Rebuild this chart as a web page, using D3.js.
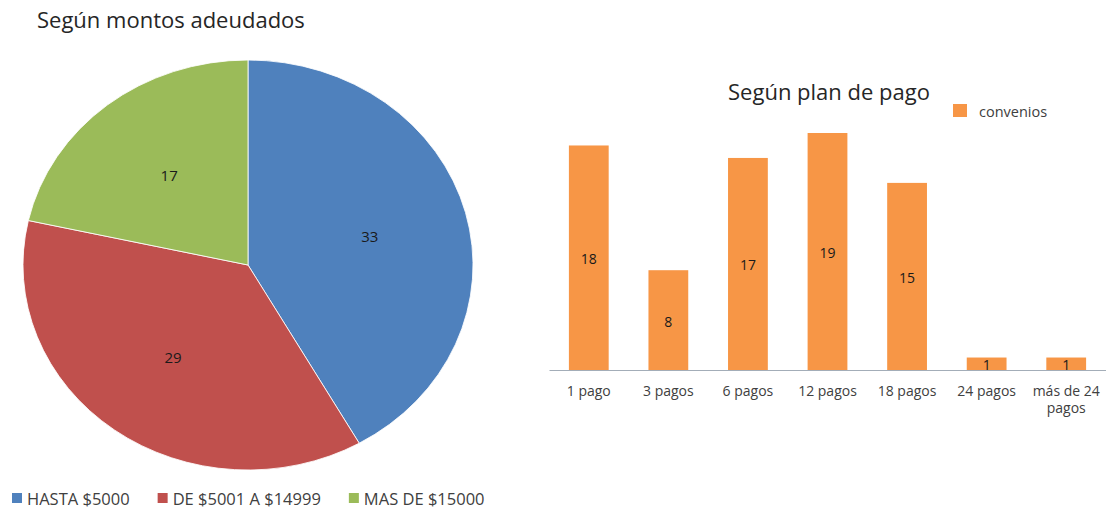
<!DOCTYPE html>
<html>
<head>
<meta charset="utf-8">
<script src="https://cdn.jsdelivr.net/npm/d3@7"></script>
<style>
  body { margin: 0; background: #fff; }
  text { font-family: "Open Sans", "Lato", sans-serif; }
</style>
</head>
<body>
<div id="chart"></div>
<script>
// pie data
const pieCategories = ["HASTA $5000", "DE $5001 A $14999", "MAS DE $15000"];
const pieValues = [33, 29, 17];
const pieColors = ["#4F81BD", "#C0504D", "#9BBB59"];

// bar data
const barCategories = ["1 pago", "3 pagos", "6 pagos", "12 pagos", "18 pagos", "24 pagos", "más de 24 pagos"];
const barValues = [18, 8, 17, 19, 15, 1, 1];
const barSeries = "convenios";

const W = 1106, H = 511;

const svg = d3.select('#chart')
  .append('svg')
  .attr('width', W)
  .attr('height', H);

svg.append('rect').attr('width', W).attr('height', H).attr('fill', '#fff');

/////////////////////////////////////////////////
// pie (slightly stretched horizontally like the original)
const cx = 248, cy = 265, rx = 225, ry = 205;
const sx = rx / ry;

const pie = d3.pie().sort(null).value(d => d);
const arcs = pie(pieValues);
const arc = d3.arc().innerRadius(0).outerRadius(ry);
const labelArc = d3.arc().innerRadius(ry * 0.56).outerRadius(ry * 0.56);

svg.append('text')
  .attr('x', 37)
  .attr('y', 28)
  .attr('font-size', 22)
  .attr('fill', '#262626')
  .text('Según montos adeudados');

const pieG = svg.append('g')
  .attr('transform', `translate(${cx},${cy}) scale(${sx},1)`);

pieG.selectAll('path')
  .data(arcs)
  .enter()
    .append('path')
    .attr('d', arc)
    .attr('fill', (d, i) => pieColors[i])
    .attr('stroke', '#fff')
    .attr('stroke-width', 0.8);

svg.selectAll('text.pie-label')
  .data(arcs)
  .enter()
    .append('text')
    .attr('class', 'pie-label')
    .attr('x', d => cx + labelArc.centroid(d)[0] * sx)
    .attr('y', d => cy + labelArc.centroid(d)[1])
    .attr('text-anchor', 'middle')
    .attr('dominant-baseline', 'central')
    .attr('font-size', 15)
    .attr('fill', '#1a1a1a')
    .text(d => d.value);

// pie legend along the bottom
const legend = svg.append('g').attr('transform', 'translate(12,498)');
let lx = 0;
pieCategories.forEach((c, i) => {
  const g = legend.append('g').attr('transform', `translate(${lx},0)`);
  g.append('rect')
    .attr('x', 0).attr('y', -5)
    .attr('width', 10).attr('height', 10)
    .attr('fill', pieColors[i]);
  const t = g.append('text')
    .attr('x', 15)
    .attr('y', 0)
    .attr('dominant-baseline', 'central')
    .attr('font-size', 16.5)
    .attr('fill', '#404040')
    .text(c);
  lx += 15 + t.node().getComputedTextLength() + 28;
});

/////////////////////////////////////////////////
// bar chart
const x = d3.scaleBand()
  .domain(barCategories)
  .range([549, 1106])
  .paddingInner(0.5)
  .paddingOuter(0.25);

const y = d3.scaleLinear()
  .domain([0, 19])
  .range([370, 133]);

svg.append('text')
  .attr('x', 829)
  .attr('y', 100)
  .attr('text-anchor', 'middle')
  .attr('font-size', 22)
  .attr('fill', '#262626')
  .text('Según plan de pago');

// series legend
svg.append('rect')
  .attr('x', 953).attr('y', 104)
  .attr('width', 14).attr('height', 13)
  .attr('fill', '#F79646');
svg.append('text')
  .attr('x', 979).attr('y', 111)
  .attr('dominant-baseline', 'central')
  .attr('font-size', 14.5)
  .attr('fill', '#404040')
  .text(barSeries);

svg.selectAll('rect.bar')
  .data(barValues)
  .enter()
    .append('rect')
    .attr('class', 'bar')
    .attr('x', (d, i) => x(barCategories[i]))
    .attr('y', d => y(d))
    .attr('width', x.bandwidth())
    .attr('height', d => y(0) - y(d))
    .attr('fill', '#F79646');

svg.selectAll('text.bar-label')
  .data(barValues)
  .enter()
    .append('text')
    .attr('class', 'bar-label')
    .attr('x', (d, i) => x(barCategories[i]) + x.bandwidth() / 2)
    .attr('y', d => (y(d) + y(0)) / 2 + 1)
    .attr('text-anchor', 'middle')
    .attr('dominant-baseline', 'central')
    .attr('font-size', 14)
    .attr('fill', '#1a1a1a')
    .text(d => d);

const axis = svg.append('g')
  .attr('transform', `translate(0,${y(0)})`)
  .call(d3.axisBottom(x).tickSize(0).tickPadding(16));

axis.select('.domain')
  .attr('stroke', '#a3adb8')
  .attr('stroke-width', 1.2);

axis.selectAll('.tick text')
  .attr('font-size', 14)
  .attr('font-family', '"Open Sans", "Lato", sans-serif')
  .attr('fill', '#404040')
  .each(function (d) {
    // wrap long labels ("más de 24 pagos") on two lines
    const t = d3.select(this);
    if (this.getComputedTextLength() > x.step() - 4) {
      const words = d.split(' ');
      const last = words.pop();
      t.text(null);
      t.append('tspan').attr('x', 0).attr('dy', '0.71em').text(words.join(' '));
      t.append('tspan').attr('x', 0).attr('dy', '1.2em').text(last);
      t.attr('dy', null);
    }
  });
</script>
</body>
</html>
